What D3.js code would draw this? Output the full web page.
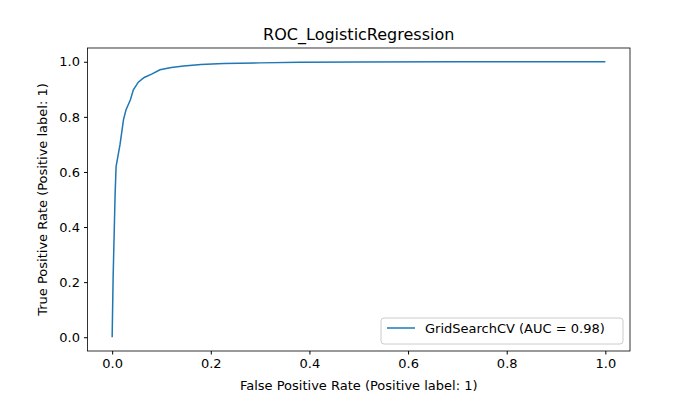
<!DOCTYPE html>
<html><head><meta charset="utf-8">
<script src="https://cdn.jsdelivr.net/npm/d3@7"></script>
<style>body{margin:0;background:#fff}text{font-family:"DejaVu Sans",sans-serif}</style>
</head><body><svg id="c" width="700" height="400"></svg>
<script>
const fpr = [0,0.002,0.006,0.008,0.016,0.023,0.028,0.037,0.043,0.053,0.065,0.081,0.097,0.12,0.145,0.18,0.226,0.3,0.381,0.5,0.7,0.85,1];
const tpr = [0,0.22,0.52,0.62,0.70,0.79,0.825,0.862,0.898,0.926,0.943,0.956,0.971,0.979,0.985,0.99,0.994,0.996,0.998,0.999,1,1,1];
const ticks = [0,0.2,0.4,0.6,0.8,1.0];
const svg = d3.select("#c");
const L=87.5,R=630,T=48,B=351;
const x = d3.scaleLinear().domain([-0.05,1.05]).range([L,R]);
const y = d3.scaleLinear().domain([-0.05,1.05]).range([B,T]);
svg.append("g").attr("transform",`translate(0,${B})`)
  .call(d3.axisBottom(x).tickValues(ticks).tickFormat(d3.format(".1f")).tickSize(3.5).tickPadding(4))
  .call(g=>{g.select(".domain").remove();g.selectAll("text").attr("font-size",13).attr("fill","#000");g.selectAll("line").attr("stroke","#000");});
svg.append("g").attr("transform",`translate(${L},0)`)
  .call(d3.axisLeft(y).tickValues(ticks).tickFormat(d3.format(".1f")).tickSize(3.5).tickPadding(4))
  .call(g=>{g.select(".domain").remove();g.selectAll("text").attr("font-size",13).attr("fill","#000");g.selectAll("line").attr("stroke","#000");});
svg.append("rect").attr("x",L).attr("y",T).attr("width",R-L).attr("height",B-T).attr("fill","none").attr("stroke","#000").attr("stroke-width",0.8);
svg.append("path").datum(fpr.map((d,i)=>[d,tpr[i]]))
  .attr("d",d3.line().x(d=>x(d[0])).y(d=>y(d[1])))
  .attr("fill","none").attr("stroke","#1f77b4").attr("stroke-width",1.5);
svg.append("text").attr("x",(L+R)/2).attr("y",40).attr("text-anchor","middle").attr("font-size",16).text("ROC_LogisticRegression");
svg.append("text").attr("x",(L+R)/2).attr("y",390).attr("text-anchor","middle").attr("font-size",13).text("False Positive Rate (Positive label: 1)");
svg.append("text").attr("transform",`translate(47,${(T+B)/2}) rotate(-90)`).attr("text-anchor","middle").attr("font-size",13).text("True Positive Rate (Positive label: 1)");
const lg = svg.append("g");
lg.append("rect").attr("x",381).attr("y",318).attr("width",242).attr("height",26).attr("rx",3).attr("fill","#fff").attr("stroke","#ccc");
lg.append("line").attr("x1",387).attr("x2",415).attr("y1",328).attr("y2",328).attr("stroke","#1f77b4").attr("stroke-width",1.5);
lg.append("text").attr("x",425).attr("y",333).attr("font-size",13).text("GridSearchCV (AUC = 0.98)");
</script></body></html>
